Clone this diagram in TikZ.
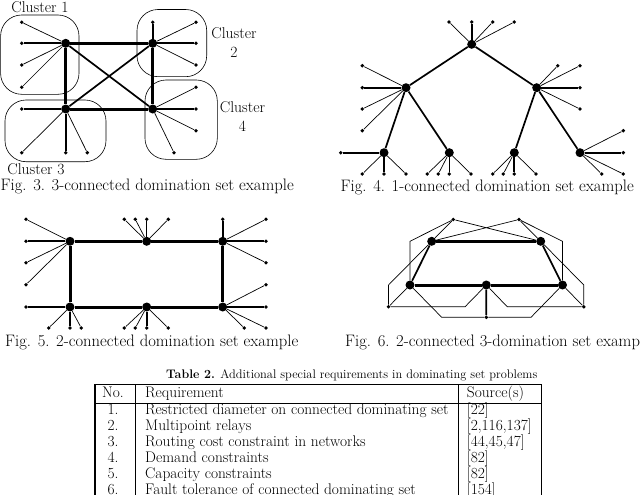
\documentclass[tikz,border=0pt]{standalone}
\usepackage{tikz}
\usetikzlibrary{positioning}

\begin{document}
\begin{tikzpicture}[x=1pt, y=-1pt,
  txt/.style={font=\fontsize{15.6}{19}\selectfont, inner sep=0pt},
  figcap/.style={font=\fontsize{16.6}{19}\selectfont, inner sep=0pt, anchor=west},
  cell/.style={font=\fontsize{15.4}{19}\selectfont, inner sep=0pt, text height=10.5pt, text depth=3pt},
  hub/.style={circle, fill, inner sep=0pt, minimum size=9pt},
  leaf/.style={circle, fill, inner sep=0pt, minimum size=3.8pt},
  core/.style={line width=3pt},
  mid/.style={line width=1.7pt},
  spoke/.style={line width=0.7pt},
  halo/.style={line width=0.6pt, rounded corners=21pt},
  rule/.style={line width=0.6pt},
  frame/.style={line width=1.1pt},
]
\useasboundingbox (0,0) rectangle (640,495);
\clip (0,0) rectangle (640,495);

% Fig. 3
\draw[halo] (0.6,15) rectangle (79,94.3);
\draw[halo] (137,9.5) rectangle (206.7,76.7);
\draw[halo] (5,100) rectangle (106,161.7);
\draw[halo] (145,80) rectangle (217.3,159.3);
\node[hub] (A) at (65.7,43.3) {};
\node[hub] (B) at (152.7,43.3) {};
\node[hub] (C) at (65.7,109) {};
\node[hub] (D) at (152.7,109) {};
\draw[core] (A) -- (B) -- (D) -- (C) -- (A);
\draw[mid] (A) -- (D) (B) -- (C);
\foreach \x/\y/\w [count=\i] in {21.7/22.3/spoke, 21.7/43.3/mid, 21.7/65/spoke, 21.7/87.3/spoke} {
  \node[leaf] (a\i) at (\x,\y) {};
  \draw[\w] (A) -- (a\i);
}
\foreach \x/\y/\w [count=\i] in {152.7/22.3/mid, 196/22.3/spoke, 196/43.3/mid, 196/65/spoke} {
  \node[leaf] (b\i) at (\x,\y) {};
  \draw[\w] (B) -- (b\i);
}
\foreach \x/\y/\w [count=\i] in {21.7/109/mid, 21.7/152.7/spoke, 65.7/152.7/mid, 87.3/152.7/spoke} {
  \node[leaf] (c\i) at (\x,\y) {};
  \draw[\w] (C) -- (c\i);
}
\foreach \x/\y/\w [count=\i] in {196/87.3/spoke, 196/109/mid, 196/130.7/spoke, 174/152.7/spoke} {
  \node[leaf] (d\i) at (\x,\y) {};
  \draw[\w] (D) -- (d\i);
}
\node[txt] (lblA) at (40,7.5) {Cluster 1};
\node[txt, align=center] (lblB) at (234,42.5) {Cluster\\2};
\node[txt, align=center] (lblD) at (242.5,117) {Cluster\\4};
\node[txt] (lblC) at (36,169) {Cluster 3};
\node[figcap] (capA) at (0.5,186.5) {Fig. 3. 3-connected domination set example};

% Fig. 4
\node[hub] (R0) at (471.7,44.3) {};
\node[hub] (L1) at (406,87.7) {};
\node[hub] (R1) at (536.7,87.7) {};
\node[hub] (LL) at (384,152.7) {};
\node[hub] (LR) at (449.3,152.7) {};
\node[hub] (RL) at (514.3,152.7) {};
\node[hub] (RR) at (580,152.7) {};
\draw[mid] (L1) -- (R0) -- (R1);
\draw[mid] (LL) -- (L1) -- (LR) (RL) -- (R1) -- (RR);
\foreach \x/\y/\w [count=\i] in {449/22/spoke, 471.7/22/mid, 492.7/22/spoke, 514.3/22/spoke} {
  \node[leaf] (r\i) at (\x,\y) {};
  \draw[\w] (R0) -- (r\i);
}
\foreach \x/\y/\w [count=\i] in {362.3/65.7/spoke, 362.3/87.7/mid, 362.3/109/spoke, 362.3/130.7/spoke} {
  \node[leaf] (l\i) at (\x,\y) {};
  \draw[\w] (L1) -- (l\i);
}
\foreach \x/\y/\w [count=\i] in {557.7/65.7/spoke, 580/65.7/spoke, 580/87.7/mid, 580/109/spoke} {
  \node[leaf] (m\i) at (\x,\y) {};
  \draw[\w] (R1) -- (m\i);
}
\foreach \x/\y/\w [count=\i] in {340.7/152.7/mid, 362.3/174/spoke, 384/174/mid, 406/174/spoke} {
  \node[leaf] (ll\i) at (\x,\y) {};
  \draw[\w] (LL) -- (ll\i);
}
\foreach \x/\y/\w [count=\i] in {427.3/174/spoke, 438.3/174/spoke, 449.3/174/spoke, 471/174/spoke} {
  \node[leaf] (lr\i) at (\x,\y) {};
  \draw[\w] (LR) -- (lr\i);
}
\foreach \x/\y/\w [count=\i] in {492.7/174/spoke, 503.3/174/spoke, 514.3/174/mid, 536/174/spoke} {
  \node[leaf] (rl\i) at (\x,\y) {};
  \draw[\w] (RL) -- (rl\i);
}
\foreach \x/\y/\w [count=\i] in {623.3/130.7/spoke, 623.3/152.7/mid, 601.7/174/spoke, 623.3/174/spoke} {
  \node[leaf] (rr\i) at (\x,\y) {};
  \draw[\w] (RR) -- (rr\i);
}
\node[figcap] (capB) at (340.5,187) {Fig. 4. 1-connected domination set example};

% Fig. 5
\node[hub] (TL) at (70,241.3) {};
\node[hub] (TM) at (146.7,241.3) {};
\node[hub] (TR) at (222.7,241.3) {};
\node[hub] (BL) at (70,307) {};
\node[hub] (BM) at (146.7,307) {};
\node[hub] (BR) at (222.7,307) {};
\draw[core] (TL) -- (TM) -- (TR) -- (BR) -- (BM) -- (BL) -- (TL);
\foreach \x/\y/\w [count=\i] in {26/219.3/spoke, 26/241.3/mid, 26/262.7/spoke, 26/284.7/spoke} {
  \node[leaf] (tl\i) at (\x,\y) {};
  \draw[\w] (TL) -- (tl\i);
}
\foreach \x/\y/\w [count=\i] in {124.3/219.3/spoke, 135.3/219.3/spoke, 146.7/219.3/spoke, 168.3/219.3/spoke} {
  \node[leaf] (tm\i) at (\x,\y) {};
  \draw[\w] (TM) -- (tm\i);
}
\foreach \x/\y/\w [count=\i] in {222.7/219.3/mid, 266/219.3/spoke, 266/241.3/mid, 266/262.7/spoke} {
  \node[leaf] (tr\i) at (\x,\y) {};
  \draw[\w] (TR) -- (tr\i);
}
\foreach \x/\y/\w [count=\i] in {26/307/mid, 48.7/328/spoke, 70/328/mid, 81.3/328/spoke} {
  \node[leaf] (bl\i) at (\x,\y) {};
  \draw[\w] (BL) -- (bl\i);
}
\foreach \x/\y/\w [count=\i] in {124.3/328/spoke, 135.3/328/spoke, 146.7/328/mid, 168.3/328/spoke} {
  \node[leaf] (bm\i) at (\x,\y) {};
  \draw[\w] (BM) -- (bm\i);
}
\foreach \x/\y/\w [count=\i] in {266/284.7/spoke, 266/307/mid, 244.3/328/spoke, 266/328/spoke} {
  \node[leaf] (br\i) at (\x,\y) {};
  \draw[\w] (BR) -- (br\i);
}
\node[figcap] (capC) at (5,342) {Fig. 5. 2-connected domination set example};

% Fig. 6
\node[hub] (T1) at (431.7,241.3) {};
\node[hub] (T2) at (540.7,241.3) {};
\node[hub] (B1) at (410,285) {};
\node[hub] (B2) at (486.3,285) {};
\node[hub] (B3) at (562.5,285) {};
\node[leaf] (P1) at (453.3,219.5) {};
\node[leaf] (P2) at (519,219.5) {};
\node[leaf] (Q1) at (388.5,306.8) {};
\node[leaf] (Q2) at (583.8,306.8) {};
\node[leaf] (Q3) at (486.3,317.3) {};
\coordinate (k1) at (465,306.8);
\coordinate (k2) at (441.7,317.3);
\coordinate (k3) at (507.3,306.8);
\coordinate (k4) at (531,317.3);
\draw[core] (T1) -- (T2) (B1) -- (B2) -- (B3);
\draw[mid] (T1) -- (B1) (T2) -- (B3) (B2) -- (Q3);
\draw[spoke] (P1) -- (T1) (P2) -- (T2) (P1) -- (T2) (P2) -- (T1);
\draw[spoke] (P1) -- (B1 |- T1) -- (B1) (P2) -- (B3 |- T2) -- (B3);
\draw[spoke] (Q1) -- (Q1 |- B1) -- (T1) (Q2) -- (Q2 |- B3) -- (T2);
\draw[spoke] (Q1) -- (B1) (Q2) -- (B3);
\draw[spoke] (Q1) -- (k1) -- (B2) (Q2) -- (k3) -- (B2);
\draw[spoke] (B1) -- (k2) -- (Q3) (B3) -- (k4) -- (Q3);
\node[figcap] (capD) at (345,342) {Fig. 6. 2-connected 3-domination set example};

% Table 2
\node[txt, font=\fontsize{12.4}{15}\selectfont, anchor=west] (title) at (166,375) {\textbf{Table 2.} Additional special requirements in dominating set problems};
\draw[frame] (95,500) -- (95,384.3) -- (541.7,384.3) -- (541.7,500);
\draw[rule] (95,403.3) -- (541.7,403.3);
\draw[rule] (135,384.3) -- (135,500) (458.3,384.3) -- (458.3,500);
\node[cell] (hNo) at (113,393.5) {No.};
\node[cell, anchor=west] (hReq) at (145,393.5) {Requirement};
\node[cell, anchor=west] (hSrc) at (466.7,393.5) {Source(s)};
\foreach \n/\r/\s [count=\i] in {
  1./Restricted diameter on connected dominating set/[22],
  {2./Multipoint relays/[2,116,137]},
  3./Routing cost constraint in networks/{[44,45,47]},
  4./Demand constraints/[82],
  5./Capacity constraints/[82],
  6./Fault tolerance of connected dominating set/[154]} {
  \node[cell] (no\i) at (113,410.7+16.05*\i-16.05) {\n};
  \node[cell, anchor=west] (req\i) at (145,410.7+16.05*\i-16.05) {\r};
  \node[cell, anchor=west] (src\i) at (466.7,410.7+16.05*\i-16.05) {\s};
}
\end{tikzpicture}
\end{document}
